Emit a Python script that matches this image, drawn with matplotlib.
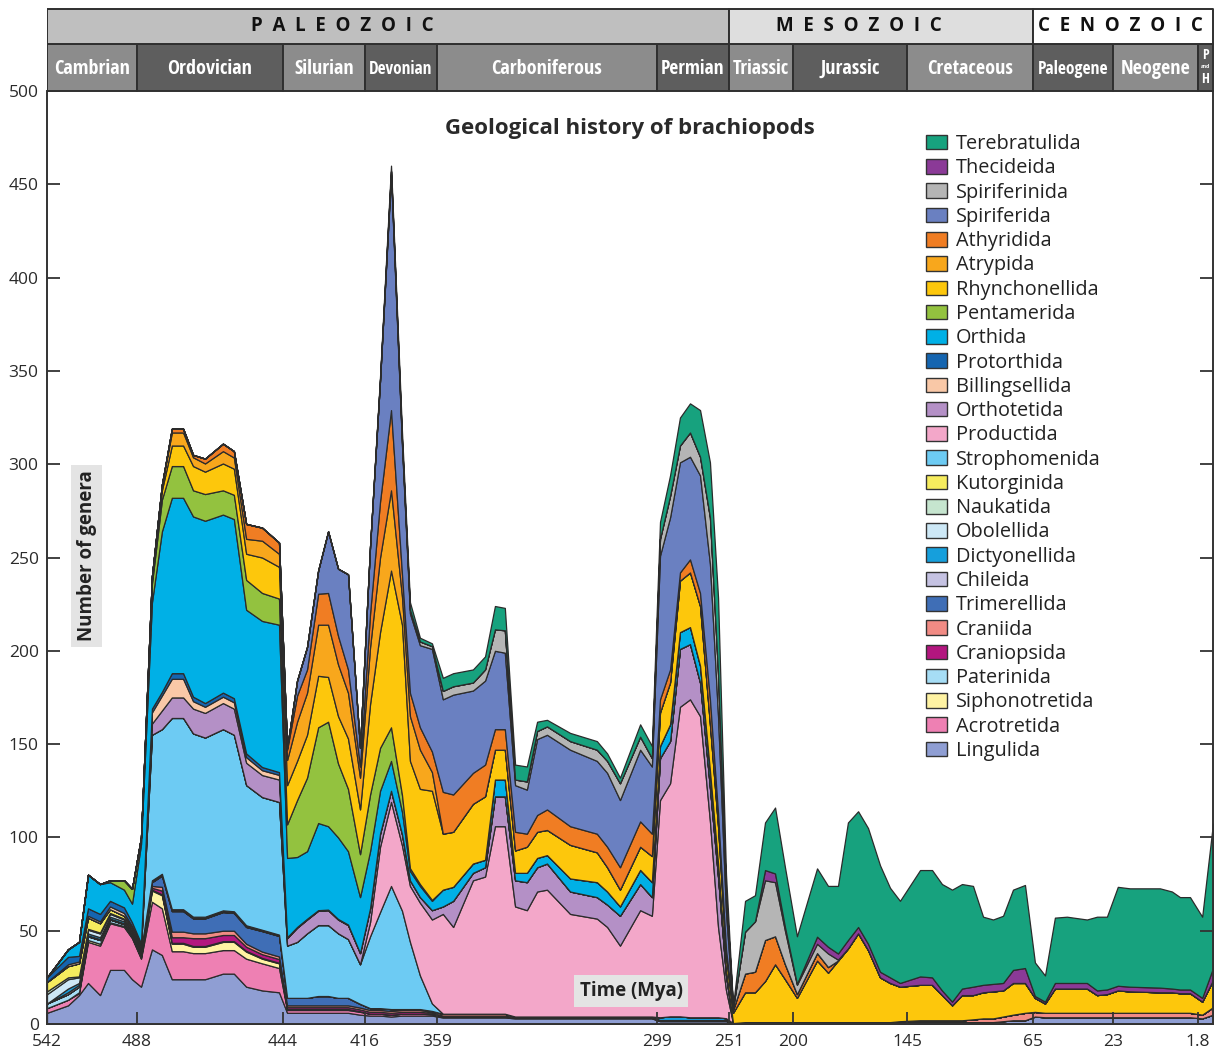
import os
import numpy as np
import matplotlib
matplotlib.use("Agg")
import matplotlib.pyplot as plt
from matplotlib.patches import Patch
from matplotlib import font_manager, transforms
from matplotlib.font_manager import FontProperties

# ---------------------------------------------------------------- data
# sample times (millions of years ago), grouped by geological period
ages = [
    542.0, 529.4, 522.8, 517.4, 510.2, 504.2, 495.8, 491.0,                     # Cambrian
    486.8, 483.5, 480.5, 477.5, 474.1, 471.1, 467.5, 462.1, 458.8, 455.1, 450.3, 445.2,  # Ordovician
    442.6, 439.2, 435.8, 432.0, 428.6, 425.2, 421.8, 417.7,                     # Silurian
    412.0, 404.1, 395.4, 386.7, 380.4, 372.5, 363.0,                            # Devonian
    357.4, 354.6, 349.2, 345.9, 343.2, 340.5, 337.7, 334.5, 331.7, 329.0,
    322.7, 315.4, 312.6, 309.1, 303.6, 300.4,                                   # Carboniferous
    297.0, 290.3, 283.7, 277.0, 270.3, 263.7, 258.3, 253.0,                     # Permian
    247.8, 238.2, 230.3, 222.3, 214.3, 206.4,                                   # Triassic
    198.1, 188.4, 183.1, 178.3, 173.5, 168.6, 163.8, 158.0, 153.2, 148.4,       # Jurassic
    136.7, 129.1, 122.8, 116.4, 110.1, 103.1, 96.7, 90.4, 84.0, 77.7, 70.1,     # Cretaceous
    64.0, 58.7, 53.5, 47.2, 36.7, 31.4, 26.2,                                   # Paleogene
    21.8, 18.8, 11.3, 8.3, 6.3, 3.8,                                            # Neogene
    1.3, 0.0,                                                                   # Pleistocene/Holocene
]

# number of genera per order (stacked from the bottom up)
lingulida = [6, 10, 15.5, 22, 15.5, 29, 29, 24,
             20, 40, 37, 24, 24, 24, 24, 27, 27, 20, 18, 17,
             6, 6, 6, 6, 6, 6, 6, 5,
             4.5, 4.5, 4, 4.5, 4.5, 4.5, 4.5,
             3.5, 3.5, 3.5, 3.5, 3.5, 3.5, 3, 3, 3, 3, 3, 3, 3, 3, 3, 3,
             *[1.5] * 8,
             0.5, 1, 1, 1, 1, 1,
             *[1] * 10,
             1, 1, 1, 1, 1, 1, 1, 1, 1.5, 2, 2,
             4, 3.6, 3.6, 3.6, 3.6, 3.6, 3.6,
             *[3.6] * 6,
             3, 5]
acrotretida = [2.5, 3, 1, 22, 26.5, 25, 23, 22,
               15, 25.5, 25, 15, 15, 14, 14, 12.6, 12.6, 15, 14.5, 13,
               *[1.5] * 8,
               1, 1, 1, 1, 1, 1, 0.8,
               *[0.5] * 6, *[0.3] * 10,
               *[0.3] * 8,
               *[0] * 42]
siphonotretida = [0, 0, 0.5, 1, 1, 0.5, 0.5, 0.5,
                  0.5, 6, 7, 4, 4, 3.4, 3.4, 4.4, 4.4, 3.8, 2.5, 2.5,
                  *[0.5] * 7, 0.3,
                  *[0] * 73]
paterinida = [2.5, 3, 3, 2, 2, 1.5, 1, 1,
              1, 0.5, 0.5, 0.5, 0.5, 0.4, 0.4, 0.4, 0.4, 0.4, 0.4, 0.3,
              *[0] * 81]
craniopsida = [*[0] * 8,
               0.5, 1, 2, 3, 3, 4.2, 4.2, 3.3, 3.3, 2.2, 2, 2,
               *[1] * 8,
               1, 1, 1, 1, 1, 1, 0.7,
               *[0.5] * 6, *[0.2] * 10,
               *[0] * 50]
craniida = [*[0] * 8,
            0.5, 1, 2, 3, 3, 2.6, 2.6, 2.3, 2.3, 1.6, 1.4, 1.4,
            *[1] * 8,
            1, 1, 1, 1, 1, 1, 0.5,
            *[1] * 6, *[0.5] * 10,
            *[0.3] * 8,
            *[0] * 6,
            *[0] * 9, 0.5,
            1, 1, 1, 1, 1, 1.5, 2, 2, 2.5, 3, 4,
            2.5, *[2.4] * 6,
            *[2.4] * 6,
            2, 4]
trimerellida = [*[0] * 8,
                0.5, 2, 6, 11, 11, 8, 8, 10, 9.5, 9, 11, 11,
                4, 4, 4, 5, 5, 4, 4, 2,
                1, 1, 1, 0.5, 0.5, 0.5, 0.5,
                *[0] * 66]
chileida = [0, 1, 1, 0.5, 0.5, 0.5, 0.5, 0.5,
            0.3, *[0] * 92]
dictyonellida = [0, 2, 1, 1, 1, 1, 1, 1,
                 *[0.5] * 12,
                 *[0] * 31,
                 1.5, 2, 2, 1.5, 1.5, 1.5, 1.5, 1,
                 *[0] * 42]
obolellida = [5, 5, 3, 2, 2, 1.5, 1, 1,
              0.5, 0.5, 0.5, 0.5, 0.5, 0.4, 0.4, 0.4, 0.4, 0.4, 0.2, 0.2,
              *[0] * 81]
naukatida = [1.5, 1, 0.5, 0.5, 0.5, 0.5, 0.5, 0.5,
             *[0] * 93]
kutorginida = [5, 6, 7, 6, 5, 2, 1.5, 1,
               0.5, *[0] * 92]
strophomenida = [*[0] * 8,
                 1, 78, 77.5, 102.5, 102.5, 98.2, 96, 97.1, 94.6, 75.1, 71.1, 71.1,
                 28, 30, 34.6, 38, 38, 34.6, 31.5, 21.2,
                 38.5, 51.5, 66, 52.7, 36, 18, 4,
                 *[0] * 66]
productida = [*[0] * 28,
              7.6, 35, 45, 35, 30, 39, 45,
              53.5, 46.5, 71.5, 73.5, 100.5, 100.5, 59, 57, 67, 68, 55, 52.5, 48, 38, 57, 54,
              116.4, 124.9, 165.9, 170.4, 161.4, 105, 48.4, 15,
              *[0] * 42]
orthotetida = [*[0] * 8,
               0.5, 6, 10, 11, 11, 13.3, 13.2, 14, 14, 12, 11.8, 12,
               4, 7.6, 7.4, 7.7, 8, 7.4, 7.5, 6,
               7.4, 7, 6, 6, 3, 3, 5,
               4, 14, 4, 5, 16, 16, 14, 15, 13, 14, 12, 11.5, 12, 16, 14, 10,
               22.5, 22.6, 31, 29.6, 18, 18.1, 27, 8,
               *[0] * 42]
billingsellida = [0, 1, 1, 1, 1, 1.5, 1.5, 1,
                  1, 6, 8, 10, 10, 4, 3.3, 3.4, 3.4, 3, 2.6, 2.5,
                  *[0] * 81]
protorthida = [2.5, 4, 3, 4, 4, 3, 3, 2,
               1, 2, 2, 3, 3, 2.4, 2, 2.2, 2.2, 2, 1.7, 1.5,
               0.5, 0.4, 0.4, 0.3, 0.3, 0.3, 0.3, 0,
               *[0] * 73]
orthida = [0, 4, 7.5, 18, 16, 10, 9.5, 10,
           53, 57, 86, 94, 94, 96.6, 97.7, 95.4, 96, 77, 78.3, 79,
           42.5, 37.5, 36.2, 46.7, 44.7, 43.7, 39.3, 30,
           30.6, 23, 16, 12, 5, 6, 5,
           9, 7.5, 5, 4, 9, 9, 4, 5, 5, 4.5, 7, 8, 7, 5, 7.6, 8,
           6.5, 9, 9, 9.1, 9, 9, 7, 3,
           *[0] * 42]
pentamerida = [0, 0, 0, 0, 0, 1, 5, 8,
               3.7, 10, 17, 17, 17, 14, 14.3, 13, 13, 16, 15, 14,
               18, 30.5, 39.4, 51.3, 56, 39.6, 33.4, 23,
               30.4, 23, 18, 9, 1.5, 1, 0.5,
               *[0] * 66]
rhynchonellida = [*[0] * 8,
                  0, 2, 5, 11, 11, 13, 12, 14.4, 14, 14, 19, 17,
                  21, 21, 23, 27.6, 24, 25.4, 27, 24,
                  48.5, 62, 84, 91.3, 57.5, 51, 58.5,
                  30, 29.5, 32, 34, 16, 16, 12, 14, 14, 13.5, 18, 16, 13, 9, 12.4, 14,
                  18, 22.4, 27.6, 29.3, 32, 24.9, 20, 8,
                  5.5, 16, 16, 22, 31, 23,
                  13, 33, 26.5, 33, 39.5, 47.6, 38.6, 24, 21, 18.5,
                  19, 19, 13.5, 8, 13.5, 13, 14, 14.5, 14, 17, 16,
                  7.5, 5, 13, 13, 13, 9.5, 10,
                  12, 11.5, 11, 11, 10.5, 10.5,
                  7, 14.5]
atrypida = [*[0] * 8,
            0, 2, 3, 7, 7, 4.7, 4.4, 6.6, 6, 8, 9, 7,
            13.5, 21, 22.5, 27.4, 28, 27.7, 24.5, 17,
            30.5, 40, 43, 15, 24, 21, 10,
            *[0] * 66]
athyridida = [*[0] * 8,
              0, 0, 0, 2, 2, 1.3, 2.6, 4, 3.4, 8, 7, 6,
              5.5, 14, 12.5, 16.6, 17, 15.3, 12.5, 6,
              18, 30, 43, 12, 12.5, 12, 11,
              22.4, 20, 16.6, 17, 11, 11, 10, 7, 9, 11, 10, 10, 11, 12, 13.6, 12,
              7, 7, 4.4, 7, 7, 13.4, 7, 3,
              1.5, 10, 11, 22, 15, 8,
              2, 4, 3, 0, 0, 0, 0, 0, 0, 0,
              *[0] * 26]
spiriferida = [*[0] * 20,
               1, 8, 12, 12.4, 33, 36, 51, 10,
               36, 65, 126, 69, 42.5, 44, 55,
               49.6, 53.5, 44.1, 45, 42, 41, 25, 23.6, 40.7, 40, 41, 39, 39.6, 36, 38.4, 36,
               77, 81.5, 59, 55, 63, 72.6, 52, 20,
               *[0] * 42]
spiriferinida = [*[0] * 28,
                 0, 0, 2, 2, 2, 2, 1.5,
                 4.5, 4.5, 4.3, 6, 11.5, 12, 3, 4.4, 4.3, 4.5, 4.6, 6, 6.4, 9, 7, 4.5,
                 9, 11.5, 9, 13, 10, 24.9, 23, 10,
                 1, 22.5, 27, 32, 29, 18,
                 5, 5, 7.3, 0.5, 0, 0, 0, 0, 0, 0,
                 *[0] * 26]
thecideida = [*[0] * 62,
              5.5, 4.7, 2,
              0.5, 3.8, 3.6, 3.3, 4.5, 3.4, 3.4, 3, 3, 2,
              4.5, 4, 2.5, 2, 3.5, 4.5, 4, 4, 4, 7, 8,
              1, 1, 3, 3, 3, 2.5, 2.5,
              2.5, 2.5, 2.5, 2, 2, 2,
              2, 6.5]
terebratulida = [*[0] * 28,
                 0, 2, 3, 5, 4, 2, 1.5,
                 7, 7, 7, 7, 12.5, 12, 8, 8, 5, 3.5, 4.4, 4.6, 4, 3, 6.6, 6.5,
                 9, 11, 15, 15.6, 25, 29.5, 40.5, 10,
                 1, 16.5, 14, 25.5, 35.3, 32,
                 25.5, 36.6, 32.6, 36.2, 63, 62, 62, 57, 48, 44,
                 57, 57.5, 57, 60, 56, 54, 36.5, 34.5, 36, 43, 44.5,
                 18, 14, 35, 35.5, 34, 39.5, 39,
                 53, 52.7, 53.2, 52, 49.5, 49.5,
                 43.5, 77.5]

order_names = ["Lingulida", "Acrotretida", "Siphonotretida", "Paterinida", "Craniopsida",
               "Craniida", "Trimerellida", "Chileida", "Dictyonellida", "Obolellida",
               "Naukatida", "Kutorginida", "Strophomenida", "Productida", "Orthotetida",
               "Billingsellida", "Protorthida", "Orthida", "Pentamerida", "Rhynchonellida",
               "Atrypida", "Athyridida", "Spiriferida", "Spiriferinida", "Thecideida",
               "Terebratulida"]
order_counts = [lingulida, acrotretida, siphonotretida, paterinida, craniopsida,
                craniida, trimerellida, chileida, dictyonellida, obolellida,
                naukatida, kutorginida, strophomenida, productida, orthotetida,
                billingsellida, protorthida, orthida, pentamerida, rhynchonellida,
                atrypida, athyridida, spiriferida, spiriferinida, thecideida,
                terebratulida]
order_colors = ["#8f9ed3", "#ee80b3", "#fff3a3", "#a6ddf5", "#b3167f",
                "#f18b84", "#3f6eb6", "#c5c2e2", "#169fdc", "#cde8f6",
                "#c6e5cf", "#f6ec5e", "#6dcbf3", "#f3a7c9", "#b490c6",
                "#f9c8a7", "#1565b0", "#00b0e6", "#93c23f", "#fdc70c",
                "#f8a71c", "#f07d23", "#6a80c1", "#b5b5b5", "#8b3a97",
                "#17a27e"]

# geological time scale
periods = ["Cambrian", "Ordovician", "Silurian", "Devonian", "Carboniferous", "Permian",
           "Triassic", "Jurassic", "Cretaceous", "Paleogene", "Neogene", "P and H"]
period_start = [542, 488, 444, 416, 359, 299, 251, 200, 145, 65, 23, 1.8]
period_end = [488, 444, 416, 359, 299, 251, 200, 145, 65, 23, 1.8, 0]
eras = ["PALEOZOIC", "MESOZOIC", "CENOZOIC"]
era_start = [542, 251, 65]
era_end = [251, 65, 0]
tick_ages = [542, 488, 444, 416, 359, 299, 251, 200, 145, 65, 23, 1.8]
tick_labels = ["542", "488", "444", "416", "359", "299", "251", "200", "145", "65", "23", "1.8"]

# horizontal layout of the time axis: each period gets its own width
scale_age = [0, 1.8, 23, 65, 145, 200, 251, 299, 359, 416, 444, 488, 542]
scale_pos = [0, 15, 100, 180, 306, 420, 484, 556, 776, 848, 930, 1076, 1166]


def age_to_pos(a):
    return np.interp(a, scale_age, scale_pos)


def pos_to_age(p):
    return np.interp(p, scale_pos, scale_age)


# ---------------------------------------------------------------- fonts
installed = {f.name for f in font_manager.fontManager.ttflist}
body_font = [f for f in ["Open Sans", "Lato", "DejaVu Sans"] if f in installed] or ["DejaVu Sans"]
plt.rcParams["font.family"] = body_font


def find_condensed_bold():
    files = [f.fname for f in font_manager.fontManager.ttflist]
    prefs = ["opensans-condbold", "opensanscondensed-bold", "robotocondensed-bold",
             "dejavusanscondensed-bold", "liberationsansnarrow-bold"]
    for p in prefs:
        for fn in files:
            b = os.path.basename(fn).lower().replace(" ", "").replace("_", "")
            if b.startswith(p) and "italic" not in b:
                return fn
    for fn in files:
        b = os.path.basename(fn).lower()
        if ("cond" in b or "narrow" in b) and "bold" in b and "italic" not in b \
                and "oblique" not in b:
            return fn
    return None


cond_file = find_condensed_bold()


def header_font(size):
    if cond_file:
        return FontProperties(fname=cond_file, size=size)
    return FontProperties(family=body_font, weight="bold", size=size)


# ---------------------------------------------------------------- figure
W, H = 1216, 1050
fig = plt.figure(figsize=(W / 100, H / 100), dpi=100)
ax_left, ax_right = 47 / W, 1213 / W
ax_bottom, ax_top = (H - 1024) / H, (H - 91) / H
ax = fig.add_axes([ax_left, ax_bottom, ax_right - ax_left, ax_top - ax_bottom])
ax.set_xscale("function", functions=(age_to_pos, pos_to_age))

ax.stackplot(ages, *order_counts, colors=order_colors,
             edgecolor="#2b2b2b", linewidth=0.9)

ax.set_xlim(542, 0)
ax.set_ylim(0, 500)
ax.set_yticks(np.arange(0, 501, 50))
ax.set_xticks(tick_ages)
ax.set_xticklabels(tick_labels)
ax.xaxis.set_minor_locator(matplotlib.ticker.NullLocator())
ax.tick_params(axis="y", direction="in", length=9.5, width=1.3, colors="#333333",
               labelsize=12.5, right=True, left=True, pad=6)
ax.tick_params(axis="x", direction="in", length=9, width=1.3, colors="#333333",
               labelsize=12.5, pad=7)
for lab in ax.get_xticklabels() + ax.get_yticklabels():
    lab.set_color("#2a2a2a")
for side in ["left", "right", "bottom"]:
    ax.spines[side].set_color("#333333")
    ax.spines[side].set_linewidth(1.4)
ax.spines["top"].set_visible(False)

ax.text(0.5, 0.9593, "Geological history of brachiopods", transform=ax.transAxes,
        ha="center", va="center", fontsize=16, fontweight="bold", color="#2a2a2a")

ax.text(0.034, 0.502, "Number of genera", transform=ax.transAxes, rotation=90,
        ha="center", va="center", fontsize=13.5, fontweight="bold", color="#222222",
        bbox=dict(boxstyle="square,pad=0.3", facecolor="#e4e4e4", edgecolor="none"))
ax.text(0.5009, 0.0355, "Time (Mya)", transform=ax.transAxes,
        ha="center", va="center", fontsize=13.5, fontweight="bold", color="#222222",
        bbox=dict(boxstyle="square,pad=0.3", facecolor="#e4e4e4", edgecolor="none"))

handles = [Patch(facecolor=c, edgecolor="#333333", linewidth=1.0, label=n)
           for n, c in zip(order_names, order_colors)][::-1]
leg = ax.legend(handles=handles, loc="upper left", bbox_to_anchor=(0.754, 0.9538),
                frameon=False, fontsize=14.3, handlelength=1.05, handleheight=0.75,
                handletextpad=0.45, labelspacing=0.215, borderaxespad=0, borderpad=0)
for t in leg.get_texts():
    t.set_color("#222222")

# ---------------------------------------------------------------- time-scale header
hdr = fig.add_axes([ax_left, (H - 91) / H, ax_right - ax_left, 83 / H], sharex=ax)
hdr.set_ylim(0, 83)
hdr.axis("off")
period_fill = ["#8c8c8c", "#5e5e5e"]
period_texts = []
for i, (name, a0, a1) in enumerate(zip(periods, period_start, period_end)):
    hdr.fill_between([a0, a1], 0, 47, facecolor=period_fill[i % 2],
                     edgecolor="#2f2f2f", linewidth=1.4)
    mid = pos_to_age((age_to_pos(a0) + age_to_pos(a1)) / 2)
    if name == "P and H":
        hdr.text(mid, 36, "P", ha="center", va="center", color="white",
                 fontproperties=header_font(10))
        hdr.text(mid, 24, "and", ha="center", va="center", color="white",
                 fontproperties=header_font(4.5))
        hdr.text(mid, 12, "H", ha="center", va="center", color="white",
                 fontproperties=header_font(10))
    else:
        t = hdr.text(mid, 22, name, ha="center", va="center", color="white",
                     fontproperties=header_font(14.5))
        period_texts.append((t, a0, a1))

era_fill = ["#bfbfbf", "#dedede", "#ffffff"]
era_label_x = [0.253, 0.696, 0.921]
era_tf = transforms.blended_transform_factory(hdr.transAxes, hdr.transData)
for name, a0, a1, fc, lx in zip(eras, era_start, era_end, era_fill, era_label_x):
    hdr.fill_between([a0, a1], 47, 82.5, facecolor=fc, edgecolor="#2f2f2f", linewidth=1.4)
    hdr.text(lx, 65, "  ".join(name), transform=era_tf, ha="center", va="center",
             color="#111111", fontsize=13.5, fontweight="bold")

# shrink any period name that would not fit inside its box
fig.canvas.draw()
renderer = fig.canvas.get_renderer()
for t, a0, a1 in period_texts:
    x0 = hdr.transData.transform((a0, 0))[0]
    x1 = hdr.transData.transform((a1, 0))[0]
    room = 0.88 * abs(x1 - x0)
    width = t.get_window_extent(renderer).width
    if width > room:
        t.set_fontsize(t.get_fontsize() * room / width)

fig.savefig("out.png", dpi=100)
